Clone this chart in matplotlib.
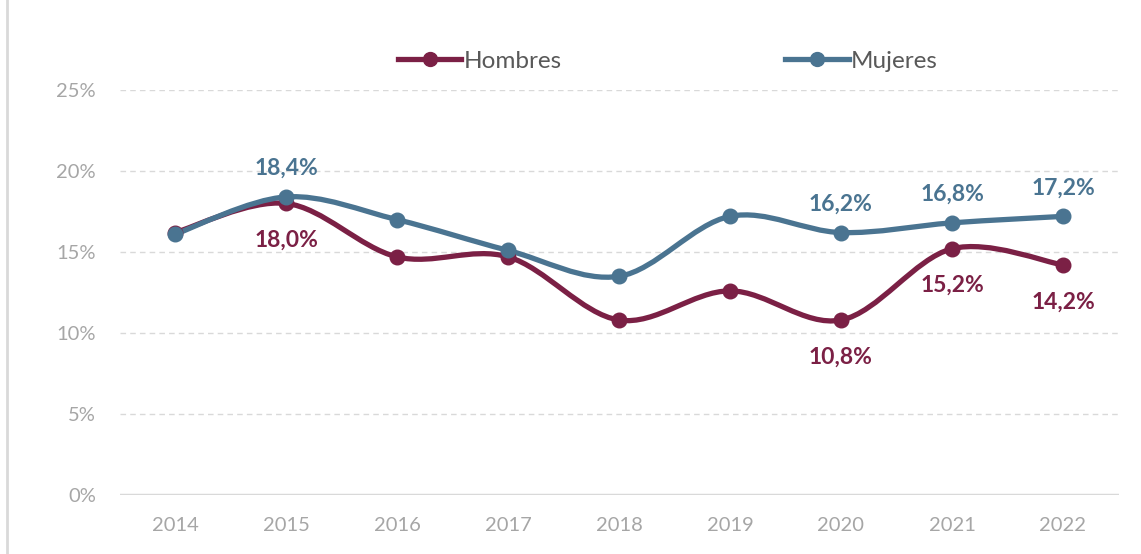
import matplotlib.pyplot as plt
import numpy as np
from matplotlib.path import Path
from matplotlib.patches import PathPatch
from matplotlib.lines import Line2D

years = ['2014', '2015', '2016', '2017', '2018', '2019', '2020', '2021', '2022']
hombres = [16.2, 18.0, 14.7, 14.7, 10.8, 12.6, 10.8, 15.2, 14.2]
mujeres = [16.1, 18.4, 17.0, 15.1, 13.5, 17.2, 16.2, 16.8, 17.2]
# which points carry a label
hombres_lab = [1, 6, 7, 8]
mujeres_lab = [1, 6, 7, 8]

c_h = '#7B2045'
c_m = '#4A7491'
grey = '#A6A6A6'

plt.rcParams['font.family'] = ['Lato', 'DejaVu Sans']

fig = plt.figure(figsize=(11.41, 5.54), dpi=100)
ax = fig.add_axes([119.5 / 1141, 1 - 495 / 554, 999 / 1141, 405 / 554])


def smooth_path(vals):
    # excel-like smoothed line: catmull-rom turned into cubic bezier segments
    pts = np.column_stack([np.arange(len(vals)), vals]).astype(float)
    verts = [pts[0]]
    codes = [Path.MOVETO]
    n = len(pts)
    for i in range(n - 1):
        p0 = pts[max(i - 1, 0)]
        p1 = pts[i]
        p2 = pts[i + 1]
        p3 = pts[min(i + 2, n - 1)]
        verts += [p1 + (p2 - p0) / 6, p2 - (p3 - p1) / 6, p2]
        codes += [Path.CURVE4] * 3
    return Path(verts, codes)


for vals, col in [(hombres, c_h), (mujeres, c_m)]:
    ax.add_patch(PathPatch(smooth_path(vals), fill=False, edgecolor=col, lw=3.8,
                           capstyle='round', joinstyle='round', zorder=3))
    ax.plot(range(len(vals)), vals, ls='none', marker='o', ms=10.5, color=col, zorder=4)

for i in mujeres_lab:
    ax.annotate(f'{mujeres[i]:.1f}%'.replace('.', ','), (i, mujeres[i]),
                xytext=(0, 13), textcoords='offset points', ha='center', va='bottom',
                color=c_m, fontsize=16.5, fontweight='bold')
for i in hombres_lab:
    ax.annotate(f'{hombres[i]:.1f}%'.replace('.', ','), (i, hombres[i]),
                xytext=(0, -19), textcoords='offset points', ha='center', va='top',
                color=c_h, fontsize=16.5, fontweight='bold')

ax.set_xlim(-0.5, len(years) - 0.5)
ax.set_ylim(0, 25)
ax.set_xticks(range(len(years)))
ax.set_xticklabels(years)
ax.set_yticks(range(0, 26, 5))
ax.set_yticklabels([f'{v}%' for v in range(0, 26, 5)])
ax.tick_params(length=0, colors=grey, labelsize=14.5)
ax.tick_params(axis='y', pad=17)
ax.tick_params(axis='x', pad=16)
for s in ax.spines.values():
    s.set_visible(False)
ax.axhline(0, color='#D9D9D9', lw=2.5, zorder=2)
for v in range(5, 26, 5):
    ax.axhline(v, color='#D9D9D9', lw=1, ls=(0, (4, 3)), zorder=1)

# left border of the chart area
fig.add_artist(Line2D([7 / 1141, 7 / 1141], [0, 1], color='#D9D9D9', lw=2))

handles = [Line2D([], [], color=c_h, lw=3.8, marker='o', ms=10),
           Line2D([], [], color=c_m, lw=3.8, marker='o', ms=10)]
fig.legend(handles, ['Hombres', 'Mujeres'], loc='center left', bbox_to_anchor=(398 / 1141, 1 - 61 / 554),
           ncol=2, frameon=False, fontsize=17.5, handlelength=2.6, handletextpad=0.1,
           columnspacing=9.2, labelcolor='#595959', borderpad=0, borderaxespad=0)

fig.savefig('out.png', dpi=100)
